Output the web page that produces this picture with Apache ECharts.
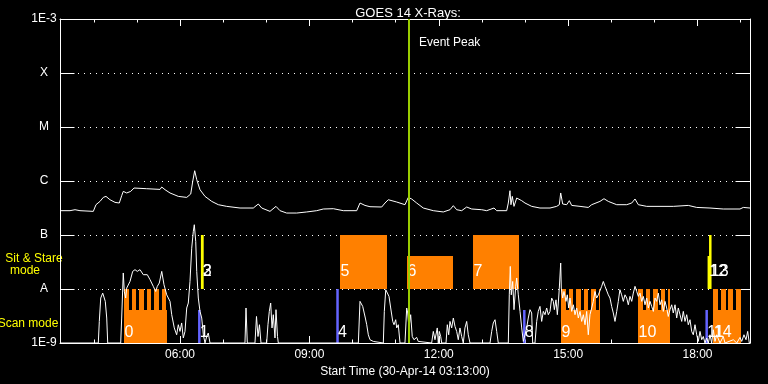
<!DOCTYPE html>
<html><head><meta charset="utf-8">
<script src="https://cdn.jsdelivr.net/npm/echarts@6/dist/echarts.min.js"></script>
<style>html,body{margin:0;padding:0;background:#000;}#c{width:768px;height:384px;}</style>
</head><body><div id="c"></div>
<script>
// ---- axis / tick data ----
const startHour = 3 + 13 / 60;          // 03:13
const endHour = startHour + 16;         // 19:13
const hourTicks = [4,5,6,7,8,9,10,11,12,13,14,15,16,17,18,19];
const majorTicks = [6,9,12,15,18];
const levelExps = [-9,-8,-7,-6,-5,-4,-3];
const levelLabels = ['1E-9','A','B','C','M','X','1E-3'];
const eventPeakHour = 11.309;

// ---- GOES long channel (1-8 A) ----
const longTimes = [3.217,3.449,3.565,3.68,3.989,4.051,4.144,4.221,4.283,4.376,
 4.492,4.592,4.647,4.684,4.763,4.856,4.933,5.227,5.536,5.576,
 5.652,5.768,5.96,6.155,6.248,6.294,6.34,6.387,6.463,6.579,
 6.735,6.888,7.082,7.391,7.699,7.815,7.894,8.086,8.225,8.318,
 8.473,8.705,8.937,9.169,9.322,9.554,9.786,10.097,10.173,10.289,
 10.405,10.676,10.753,10.829,11.024,11.216,11.293,11.372,11.488,11.641,
 11.873,12.105,12.26,12.337,12.415,12.531,12.647,12.763,12.995,13.111,
 13.281,13.343,13.575,13.612,13.651,13.674,13.705,13.744,13.807,13.923,
 13.999,14.155,14.347,14.579,14.734,14.795,14.827,14.873,14.966,15.027,
 15.082,15.275,15.467,15.546,15.738,15.831,15.931,16.126,16.358,16.474,
 16.55,16.627,16.822,17.13,17.438,17.786,17.981,18.289,18.597,18.985,
 19.061,19.217];
const longFlux = [2.82e-7,2.82e-7,2.94e-7,2.82e-7,2.74e-7,3.64e-7,4.19e-7,4.97e-7,5.19e-7,4.5e-7,
 4.02e-7,3.91e-7,5.34e-7,6.42e-7,6.0e-7,6.42e-7,7.41e-7,7.2e-7,6.99e-7,7.74e-7,
 6.9e-7,6.0e-7,5.19e-7,4.97e-7,5.74e-7,9.8e-7,1.55e-6,1.06e-6,6.9e-7,5.19e-7,
 4.19e-7,3.64e-7,3.39e-7,3.16e-7,3.16e-7,3.75e-7,3.16e-7,2.74e-7,3.39e-7,2.82e-7,
 2.55e-7,2.55e-7,2.67e-7,2.82e-7,3.03e-7,3.07e-7,2.82e-7,2.82e-7,3.91e-7,3.53e-7,
 3.34e-7,3.3e-7,3.91e-7,4.5e-7,4.08e-7,3.64e-7,4.97e-7,4.64e-7,3.91e-7,3.16e-7,
 2.82e-7,2.67e-7,2.94e-7,3.49e-7,2.94e-7,2.82e-7,3.3e-7,3.03e-7,2.94e-7,2.82e-7,
 3.16e-7,2.82e-7,2.82e-7,3.91e-7,6.61e-7,3.64e-7,5.19e-7,3.39e-7,4.84e-7,4.32e-7,
 3.91e-7,3.39e-7,3.16e-7,3.16e-7,3.39e-7,3.64e-7,6.0e-7,3.75e-7,3.64e-7,4.32e-7,
 3.53e-7,3.39e-7,3.24e-7,3.64e-7,4.19e-7,4.7e-7,4.19e-7,3.64e-7,3.64e-7,3.91e-7,
 4.64e-7,3.64e-7,3.39e-7,3.39e-7,3.39e-7,3.53e-7,3.24e-7,3.16e-7,3.03e-7,3.03e-7,
 3.24e-7,3.16e-7];

// ---- GOES short channel (0.5-4 A) ----
const shortTimes = [3.217,4.105,4.128,4.161,4.207,4.237,4.267,4.3,4.323,4.624,
 4.647,4.684,4.708,4.74,4.763,4.84,4.902,4.956,5.009,5.072,
 5.148,5.241,5.304,5.38,5.436,5.473,5.519,5.576,5.628,5.691,
 5.768,5.807,5.867,5.922,5.96,5.999,6.038,6.076,6.115,6.155,
 6.192,6.231,6.271,6.308,6.331,6.364,6.387,6.424,6.463,6.503,
 6.54,6.579,6.618,6.655,6.695,7.506,7.53,7.56,7.738,7.773,
 7.808,7.842,7.877,8.009,8.039,8.07,8.102,8.133,8.163,8.202,
 8.225,8.26,8.279,10.135,10.173,10.197,10.236,10.266,10.297,10.329,
 10.366,10.405,10.482,10.521,10.714,10.737,10.77,10.807,10.846,10.885,
 10.932,10.962,11.001,11.024,11.061,11.101,11.216,11.256,11.279,11.309,
 11.348,11.385,11.425,11.487,11.524,11.564,11.835,11.873,11.912,11.965,
 11.989,12.012,12.044,12.068,12.168,12.198,12.23,12.26,12.299,12.337,
 12.376,12.415,12.452,12.491,12.531,12.568,12.607,12.647,12.684,12.724,
 13.188,13.227,13.264,13.304,13.343,13.38,13.612,13.635,13.658,13.681,
 13.714,13.744,13.784,13.807,13.844,13.884,13.923,13.96,13.999,14.038,
 14.075,14.115,14.154,14.177,14.231,14.27,14.307,14.347,14.386,14.424,
 14.463,14.502,14.54,14.579,14.618,14.656,14.68,14.718,14.749,14.772,
 14.795,14.827,14.841,14.873,14.903,14.95,14.98,15.013,15.043,15.082,
 15.12,15.159,15.198,15.236,15.275,15.314,15.352,15.391,15.43,15.467,
 15.506,15.546,15.583,15.622,15.661,15.7,15.738,15.777,15.815,15.855,
 15.893,15.931,15.97,16.009,16.047,16.086,16.126,16.163,16.2,16.24,
 16.279,16.318,16.358,16.395,16.434,16.474,16.511,16.55,16.59,16.627,
 16.666,16.706,16.743,16.782,16.822,16.859,16.898,16.937,16.975,17.014,
 17.053,17.091,17.13,17.169,17.206,17.246,17.285,17.322,17.361,17.401,
 17.438,17.478,17.517,17.554,17.594,17.633,17.67,17.71,17.749,17.786,
 17.825,17.865,17.902,17.941,17.981,18.018,18.057,18.097,18.134,18.173,
 18.212,18.25,18.289,18.328,18.366,18.405,18.444,18.521,18.597,18.637,
 18.83,18.909,18.985,19.024,19.077,19.124,19.163,19.2,19.217];
const shortFlux = [1e-9,1e-9,2.51e-9,6.8e-9,8.4e-9,9.0e-9,5.9e-9,2.9e-9,1e-9,1e-9,
 2.9e-9,1.98e-8,9.0e-9,6.8e-9,1.04e-8,1.38e-8,2.12e-8,2.28e-8,2.12e-8,2.28e-8,
 1.84e-8,1.84e-8,1.49e-8,1.12e-8,9.0e-9,1.12e-8,1.29e-8,2.12e-8,1.2e-8,7.8e-9,
 5.9e-9,3.34e-9,1.9e-9,1.42e-9,2.18e-9,1.64e-9,2.35e-9,1.24e-9,1.64e-9,4.45e-9,
 5.5e-9,1.38e-8,5.7e-8,1.17e-7,1.55e-7,7.6e-8,2.12e-8,6.8e-9,3.85e-9,2.9e-9,
 1.42e-9,1e-9,1.32e-9,1.53e-9,1e-9,1e-9,4.45e-9,1e-9,1e-9,3.1e-9,
 1.32e-9,2.18e-9,1e-9,1e-9,2.18e-9,3.85e-9,5.5e-9,1.9e-9,3.34e-9,1.24e-9,
 4.14e-9,1.32e-9,1e-9,1e-9,5.9e-9,6.1e-9,4.76e-9,4.45e-9,2.9e-9,2.18e-9,
 1.42e-9,1.15e-9,1.07e-9,1e-9,1e-9,3.85e-9,9.7e-9,9.0e-9,7.3e-9,4.45e-9,
 2.51e-9,2.18e-9,2.7e-9,1.9e-9,2.18e-9,1e-9,1e-9,4.45e-9,3.6e-9,1.9e-9,
 3.34e-9,1.32e-9,1.15e-9,1.27e-9,1.07e-9,1e-9,1e-9,1.64e-9,1.15e-9,1.9e-9,
 1e-9,1.64e-9,1.32e-9,1e-9,1e-9,2.18e-9,1.42e-9,2.51e-9,1.9e-9,2.9e-9,
 2.03e-9,1.64e-9,1.15e-9,1.9e-9,1.32e-9,1e-9,1.9e-9,2.51e-9,1.42e-9,1e-9,
 1e-9,1.64e-9,2.35e-9,2.7e-9,1.64e-9,1e-9,1e-9,7.8e-9,2.62e-8,7.8e-9,
 1.38e-8,4.14e-9,1.12e-8,1.6e-8,7.8e-9,3.85e-9,1.9e-9,1.07e-9,1e-9,1.9e-9,
 2.9e-9,4.14e-9,3.6e-9,1e-9,1e-9,2.51e-9,3.85e-9,4.76e-9,2.51e-9,3.85e-9,
 3.34e-9,4.45e-9,3.34e-9,3.85e-9,6.8e-9,5.9e-9,4.14e-9,6.3e-9,3.34e-9,5.5e-9,
 1.04e-8,3.03e-8,1.04e-8,6.8e-9,9.0e-9,5.9e-9,7.8e-9,4.45e-9,6.8e-9,3.85e-9,
 5.1e-9,3.34e-9,4.45e-9,2.9e-9,3.85e-9,2.51e-9,3.34e-9,2.18e-9,3.85e-9,1.42e-9,
 3.34e-9,4.45e-9,5.9e-9,9.0e-9,6.8e-9,7.8e-9,8.4e-9,1.12e-8,1.38e-8,1.12e-8,
 1.04e-8,7.8e-9,6.8e-9,4.76e-9,3.6e-9,2.51e-9,3.85e-9,5.9e-9,9.7e-9,7.8e-9,
 5.9e-9,7.8e-9,6.8e-9,5.1e-9,7.3e-9,5.9e-9,8.4e-9,1.12e-8,9.0e-9,7.3e-9,
 8.4e-9,5.9e-9,7.3e-9,5.1e-9,6.8e-9,4.45e-9,5.9e-9,4.76e-9,3.85e-9,6.8e-9,
 5.9e-9,8.4e-9,5.1e-9,6.3e-9,3.85e-9,5.9e-9,4.45e-9,3.1e-9,4.14e-9,5.1e-9,
 3.6e-9,5.1e-9,2.9e-9,4.45e-9,3.34e-9,2.51e-9,3.85e-9,2.51e-9,3.34e-9,2.18e-9,
 2.7e-9,1.64e-9,1.42e-9,2.18e-9,1.42e-9,1.07e-9,1.64e-9,1.15e-9,1.32e-9,1e-9,
 1.24e-9,1e-9,1.42e-9,1e-9,1.76e-9,1.07e-9,1.42e-9,1e-9,1.32e-9,1e-9,
 1.15e-9,1e-9,1.27e-9,1.07e-9,1.42e-9,1.15e-9,1.64e-9,1e-9,1e-9];

// ---- observations ----
const scanFloor = 1e-9, scanStepLevel = 4.14e-9, scanTop = 1e-8, sitTopFull = 1e-7;
const scanStepHours = 0.1751, scanExposureHours = 0.109;
const scanIds = ['0','9','10','14'];
const scanStarts = [4.701,14.834,16.62,18.366];
const scanEnds = [5.691,15.738,17.361,19.001];
const sitIds = ['5','6','7'];
const sitStarts = [9.709,11.263,12.794];
const sitEnds = [10.799,12.33,13.853];
const sitTops = [1e-7,4.14e-8,1e-7];
const shortScanIds = ['1','4','8','11'];
const shortScanTimes = [6.447,9.652,13.983,18.212];
const shortScanTops = [4.14e-9,1e-8,4.14e-9,4.14e-9];
const shortSitIds = ['2','3','12','13'];
const shortSitTimes = [6.514,6.514,18.262,18.296];
const shortSitTops = [1e-7,1e-7,4.14e-8,1e-7];

const ORANGE = '#ff8000', BLUE = '#6464ff', YELLOW = '#ffff00', GREEN = '#9acd00', WHITE = '#ffffff';
const FONT = 'Liberation Sans';

function pad2(n){ return (n < 10 ? '0' : '') + n; }
function rectFrom(p0, p1, fill) {
  const x0 = Math.round(Math.min(p0[0], p1[0])), x1 = Math.round(Math.max(p0[0], p1[0]));
  const y0 = Math.round(Math.min(p0[1], p1[1])), y1 = Math.round(Math.max(p0[1], p1[1]));
  return {type:'rect', shape:{x:x0, y:y0, width:Math.max(1, x1 - x0), height:y1 - y0}, style:{fill:fill}};
}

const sitData = sitStarts.map((s, i) => [s, sitEnds[i], scanTop, sitTops[i]]);
const scanData = scanStarts.map((s, i) => [s, scanEnds[i], scanFloor, scanTop]);
const shortScanData = shortScanTimes.map((t, i) => [t, scanFloor, shortScanTops[i]]);
const shortSitData = shortSitTimes.map((t, i) => [t, scanTop, shortSitTops[i]]);
const labelTexts = [].concat(scanIds, shortScanIds, sitIds, shortSitIds);
const labelData = [].concat(
  scanStarts.map(t => [t, scanFloor]),
  shortScanTimes.map(t => [t, scanFloor]),
  sitStarts.map(t => [t, scanTop]),
  shortSitTimes.map(t => [t, scanTop])
);

function renderSit(params, api) {
  const p0 = api.coord([api.value(0), api.value(2)]);
  const p1 = api.coord([api.value(1), api.value(3)]);
  return rectFrom(p0, p1, ORANGE);
}
function renderScan(params, api) {
  const t0 = api.value(0), t1 = api.value(1);
  const children = [rectFrom(api.coord([t0, scanFloor]), api.coord([t1, scanStepLevel]), ORANGE)];
  for (let t = t0; t < t1 - 1e-6; t += scanStepHours) {
    const te = Math.min(t + scanExposureHours, t1);
    children.push(rectFrom(api.coord([t, scanFloor]), api.coord([te, scanTop]), ORANGE));
  }
  return {type:'group', children:children};
}
function makeTickRenderer(color) {
  return function (params, api) {
    const p0 = api.coord([api.value(0), api.value(1)]);
    const p1 = api.coord([api.value(0), api.value(2)]);
    return {type:'rect', shape:{x:p0[0] - 1.25, y:Math.round(p1[1]), width:2.5, height:Math.round(p0[1]) - Math.round(p1[1])}, style:{fill:color}};
  };
}
function renderLabel(params, api) {
  const base = api.value(1);
  const p = api.coord([api.value(0), base]);
  const dy = base < 2e-9 ? -10 : -17.5;
  return {type:'text', x: p[0] + 0.5, y: p[1] + dy,
    style:{text: labelTexts[params.dataIndex], fill: WHITE, font: '16px "' + FONT + '"',
      align:'left', verticalAlign:'middle', textAlign:'left', textVerticalAlign:'middle'}};
}

const xBase = {type:'value', min:startHour, max:endHour, splitLine:{show:false}};
const tickStyle = {color: WHITE, width: 1};
const option = {
  backgroundColor: '#000',
  animation: false,
  title: {text:'GOES 14 X-Rays:', left:403, top:2, textAlign:'center',
    textStyle:{color:WHITE, fontSize:13, fontWeight:'normal', fontFamily:FONT}},
  grid: {left:60, right:18, top:19, bottom:41},
  xAxis: [
    Object.assign({}, xBase, {position:'bottom',
      name:'Start Time (30-Apr-14 03:13:00)', nameLocation:'middle', nameGap:19,
      nameTextStyle:{color:WHITE, fontSize:12, fontFamily:FONT},
      axisLine:{show:true, lineStyle:{color:WHITE, width:1}},
      axisTick:{show:true, inside:true, length:3.5, customValues:hourTicks, lineStyle:tickStyle},
      axisLabel:{show:true, customValues:majorTicks, formatter: v => pad2(Math.round(v)) + ':00',
        color:WHITE, fontSize:12, fontFamily:FONT, margin:6}}),
    Object.assign({}, xBase, {position:'bottom', axisLine:{show:false},
      axisTick:{show:true, inside:true, length:7, customValues:majorTicks, lineStyle:tickStyle},
      axisLabel:{show:false}}),
    Object.assign({}, xBase, {position:'top', axisLine:{show:true, lineStyle:{color:WHITE, width:1}},
      axisTick:{show:true, inside:true, length:3.5, customValues:hourTicks, lineStyle:tickStyle},
      axisLabel:{show:false}}),
    Object.assign({}, xBase, {position:'top', axisLine:{show:false},
      axisTick:{show:true, inside:true, length:7, customValues:majorTicks, lineStyle:tickStyle},
      axisLabel:{show:false}})
  ],
  yAxis: [
    {type:'log', logBase:10, min:1e-9, max:1e-3, position:'left',
      axisLine:{show:true, lineStyle:{color:WHITE, width:1}},
      axisTick:{show:true, inside:true, length:14.5, lineStyle:tickStyle},
      minorTick:{show:false},
      axisLabel:{show:true, align:'center', margin:16, color:WHITE, fontSize:12, fontFamily:FONT,
        formatter: v => levelLabels[levelExps.indexOf(Math.round(Math.log10(v)))] || ''},
      splitLine:{show:true, lineStyle:{color:WHITE, width:1, type:[1,5]}}},
    {type:'log', logBase:10, min:1e-9, max:1e-3, position:'right',
      axisLine:{show:true, lineStyle:{color:WHITE, width:1}},
      axisTick:{show:true, inside:true, length:14.5, lineStyle:tickStyle},
      minorTick:{show:false}, axisLabel:{show:false}, splitLine:{show:false}}
  ],
  series: [
    {type:'custom', name:'sit', renderItem:renderSit, data:sitData, encode:{x:[0,1], y:[2,3]}, z:1, silent:true},
    {type:'custom', name:'scan', renderItem:renderScan, data:scanData, encode:{x:[0,1], y:[2,3]}, z:1, silent:true},
    {type:'custom', name:'shortScan', renderItem:makeTickRenderer(BLUE), data:shortScanData, encode:{x:0, y:[1,2]}, z:1, silent:true},
    {type:'custom', name:'shortSit', renderItem:makeTickRenderer(YELLOW), data:shortSitData, encode:{x:0, y:[1,2]}, z:1, silent:true},
    {type:'line', name:'long', data:longTimes.map((t, i) => [t, longFlux[i]]), showSymbol:false, symbol:'none',
      lineStyle:{color:WHITE, width:1}, z:2, silent:true,
      markLine:{silent:true, symbol:['none','none'], label:{show:false},
        lineStyle:{color:GREEN, width:2, type:'solid'}, data:[{xAxis:eventPeakHour}]}},
    {type:'line', name:'short', data:shortTimes.map((t, i) => [t, shortFlux[i]]), showSymbol:false, symbol:'none',
      lineStyle:{color:WHITE, width:1}, z:2, silent:true},
    {type:'custom', name:'labels', renderItem:renderLabel, data:labelData, encode:{x:0, y:1}, z:3, silent:true}
  ]
};

const chart = echarts.init(document.getElementById('c'), null, {width:768, height:384});
chart.setOption(option);
const peakX = chart.convertToPixel({xAxisIndex:0}, eventPeakHour);
const txt = (text, x, y, color, align) => ({type:'text', x:x, y:y,
  style:{text:text, fill:color, font:'12px "' + FONT + '"', align:align, verticalAlign:'middle',
    textAlign:align, textVerticalAlign:'middle'}});
chart.setOption({graphic:[
  txt('Event Peak', peakX + 10, 43, WHITE, 'left'),
  txt('Sit & Stare', 34, 259, YELLOW, 'center'),
  txt('mode', 25, 271, YELLOW, 'center'),
  txt('Scan mode', 28, 324, YELLOW, 'center')
]});
</script>
</body></html>
